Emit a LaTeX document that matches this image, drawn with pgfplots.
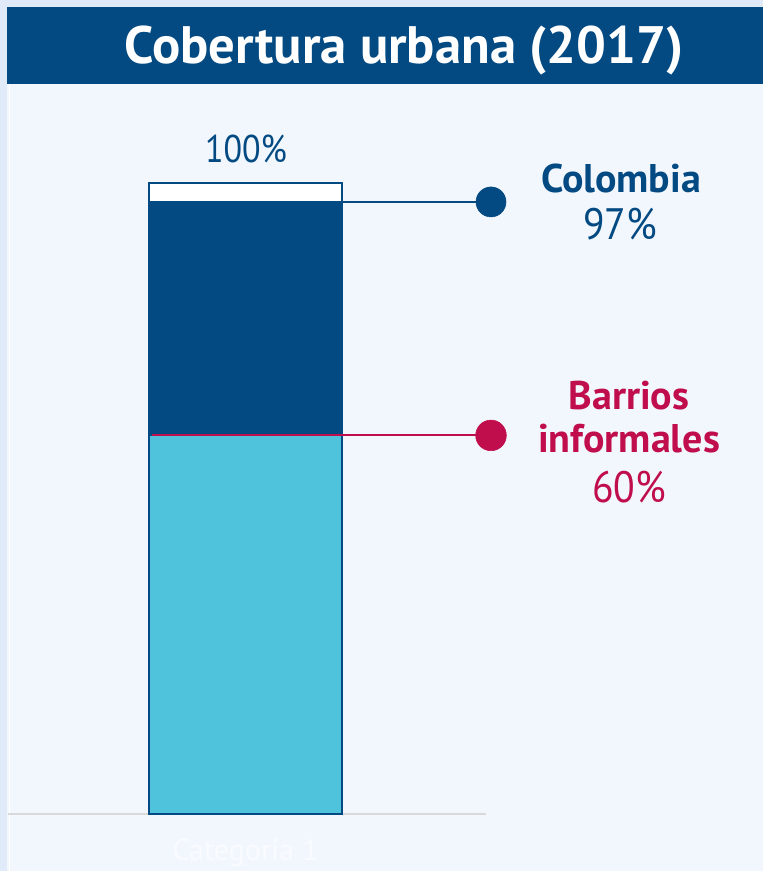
\documentclass[border=0pt]{standalone}
\usepackage{fontspec}
\setmainfont{PT Sans}
\usepackage{pgfplots}
\pgfplotsset{compat=1.18}
\definecolor{azul}{HTML}{034A82}
\definecolor{cian}{HTML}{4FC3DB}
\definecolor{magenta}{HTML}{C00D4B}
\definecolor{panel}{HTML}{F2F7FE}
\definecolor{fondo}{HTML}{E0EAF8}
\definecolor{linea}{HTML}{D9D9D9}
\definecolor{catego}{HTML}{F9FBFF}
\begin{document}
\begin{tikzpicture}[x=0.75pt,y=0.75pt]
\useasboundingbox (0,0) rectangle (763,-871);
% background and title bar (pixel coordinates, y downwards)
\fill[fondo] (0,0) rectangle (763,-871);
\fill[panel] (7,-84) rectangle (763,-871);
\fill[white] (9,-84) rectangle (10,-871);
\fill[azul] (7,-7) rectangle (763,-84);
\node[anchor=base, text=white, inner sep=0pt,
      font=\bfseries\fontsize{39.5}{42}\selectfont] at (404,-63) {Cobertura urbana (2017)};

\begin{axis}[
    at={(6pt,-610.5pt)}, anchor=south west,
    scale only axis,
    width=358.5pt, height=473.25pt,
    xmin=8, xmax=486, ymin=0, ymax=100,
    clip=false,
    axis y line=none,
    axis x line=bottom,
    x axis line style={-, draw=linea, line width=1.5pt},
    xtick={245.5}, xticklabels={Categoría 1},
    major tick length=0pt,
    xticklabel style={text=catego, font=\fontsize{22.5}{24}\selectfont, yshift=-15.5pt},
    ytick=\empty,
]
% bars: total, Colombia, barrios informales
\addplot[ybar, bar width=193, bar shift=0pt, fill=white, draw=azul, line width=1.1pt]
    coordinates {(245.5,100)};
\addplot[ybar, bar width=193, bar shift=0pt, fill=azul, draw=azul, line width=1.1pt]
    coordinates {(245.5,97)};
\addplot[ybar, bar width=193, bar shift=0pt, fill=cian, draw=azul, line width=1.1pt]
    coordinates {(245.5,60)};

% leader lines and dots
\addplot[azul, line width=1.1pt, mark=none] coordinates {(342,97) (491,97)};
\addplot[only marks, mark=*, mark size=11.25pt, azul] coordinates {(491,97)};
\addplot[magenta, line width=1.6pt, mark=none] coordinates {(152,60) (491,60)};
\addplot[only marks, mark=*, mark size=11.5pt, magenta] coordinates {(491,60)};

% labels
\node[anchor=base, text=azul, font=\fontsize{29}{30}\selectfont] at (axis cs:246,103.3) {\scalebox{0.88}[1]{100\%}};
\node[anchor=base, text=azul, font=\bfseries\fontsize{30}{32}\selectfont] at (axis cs:621,98.57) {Colombia};
\node[anchor=base, text=azul, font=\fontsize{33}{35}\selectfont] at (axis cs:620,90.97) {\scalebox{0.9}[1]{97\%}};
\node[anchor=base, text=magenta, font=\bfseries\fontsize{30}{32}\selectfont] at (axis cs:629,64.03) {Barrios};
\node[anchor=base, text=magenta, font=\bfseries\fontsize{30}{32}\selectfont] at (axis cs:629,57.37) {informales};
\node[anchor=base, text=magenta, font=\fontsize{33}{35}\selectfont] at (axis cs:629,49.29) {\scalebox{0.9}[1]{60\%}};
\end{axis}
\end{tikzpicture}
\end{document}
